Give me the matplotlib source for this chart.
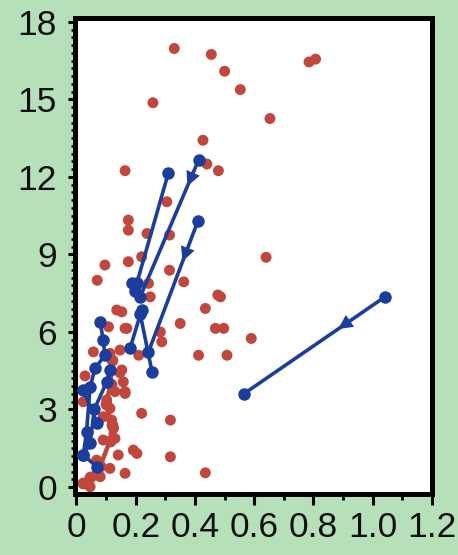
import matplotlib
matplotlib.use('Agg')
import matplotlib.pyplot as plt
from matplotlib.ticker import MultipleLocator
import numpy as np

BG = '#b6e0b9'
RED = '#c1473d'
BLUE = '#1b3e9e'

# scattered observations
red_x = [0.33, 0.455, 0.50, 0.553, 0.258, 0.427, 0.44, 0.479, 0.164, 0.785, 0.807,
         0.653, 0.64, 0.486, 0.497, 0.59, 0.508, 0.362, 0.477, 0.435, 0.249, 0.153,
         0.35, 0.469, 0.164, 0.288, 0.412, 0.21, 0.147, 0.153, 0.164, 0.22, 0.317,
         0.192, 0.204, 0.317, 0.435, 0.164, 0.305, 0.175, 0.175, 0.238, 0.314, 0.175,
         0.22, 0.314, 0.096, 0.07, 0.243, 0.136, 0.108, 0.17, 0.283, 0.057, 0.113,
         0.147, 0.029, 0.023, 0.158, 0.13, 0.164, 0.113, 0.119, 0.125, 0.13, 0.141,
         0.113, 0.08, 0.023, 0.046, 0.09, 0.102, 0.09, 0.068]
red_y = [16.97, 16.74, 16.09, 15.38, 14.87, 13.42, 12.5, 12.24, 12.24, 16.45, 16.56,
         14.26, 8.89, 7.36, 6.14, 5.75, 5.1, 7.94, 7.43, 6.91, 7.36, 6.78,
         6.33, 6.14, 6.14, 5.62, 5.1, 5.1, 5.3, 4.53, 3.69, 2.85, 2.59,
         1.43, 1.3, 1.17, 0.55, 0.53, 11.04, 10.33, 9.94, 9.81, 9.75, 8.72,
         8.91, 8.39, 8.59, 8.0, 7.88, 6.85, 6.2, 6.14, 6.0, 5.23, 5.17,
         4.42, 4.3, 3.3, 4.07, 3.69, 3.62, 3.04, 2.59, 2.27, 1.88, 1.24,
         0.72, 0.4, 0.14, 0.01, 2.72, 3.37, 1.82, 1.04]

# connected red sequence in the dense low-x region
red_path_x = [0.12, 0.115, 0.1, 0.12, 0.113, 0.08, 0.045, 0.023]
red_path_y = [4.9, 4.0, 3.2, 2.4, 1.8, 0.8, 0.4, 0.14]

# trajectories: x values, y values, and where the direction arrow sits on the first segment
traj_x = [
    [1.04, 0.564],
    [0.412, 0.215, 0.198],
    [0.41, 0.243],
    [0.31, 0.204, 0.187],
    [0.181, 0.22],
    [0.255, 0.215],
    [0.08, 0.09, 0.096, 0.063, 0.046, 0.034, 0.023, 0.068],
    [0.113, 0.102, 0.06, 0.046, 0.023],
    [0.023, 0.07],
]
traj_y = [
    [7.35, 3.6],
    [12.65, 7.36, 7.6],
    [10.3, 5.23],
    [12.15, 7.9, 7.88],
    [5.37, 6.85],
    [4.46, 6.7],
    [6.4, 5.69, 5.1, 4.6, 3.88, 2.14, 1.24, 0.79],
    [4.53, 4.07, 3.0, 1.69, 1.24],
    [3.75, 2.47],
]
arrow_pos = [0.33, 0.19, 0.31, None, None, None, None, None, None]

fig = plt.figure(figsize=(4.58, 5.55), dpi=100, facecolor=BG)
ax = fig.add_axes([75 / 458, 61 / 555, 357 / 458, 476 / 555])
ax.set_facecolor('white')

ax.scatter(red_x, red_y, s=62, color=RED, edgecolors='none', zorder=2)
ax.plot(red_path_x, red_path_y, color=RED, lw=3.2, marker='o', ms=8.5, mec='none',
        zorder=2)

for xs, ys, fr in zip(traj_x, traj_y, arrow_pos):
    ax.plot(xs, ys, color=BLUE, lw=2.6, marker='o', ms=9, mec='none', zorder=3)
    if fr is not None:
        x0, y0, x1, y1 = xs[0], ys[0], xs[1], ys[1]
        tip = (x0 + fr * (x1 - x0), y0 + fr * (y1 - y0))
        tail = (x0 + (fr - 0.05) * (x1 - x0), y0 + (fr - 0.05) * (y1 - y0))
        ax.annotate('', xy=tip, xytext=tail,
                    arrowprops=dict(arrowstyle='-|>', color=BLUE, lw=0,
                                    mutation_scale=26, shrinkA=0, shrinkB=0),
                    zorder=4)

ax.set_xlim(-0.005, 1.2)
ax.set_ylim(-0.27, 18.15)

xt = [0, 0.2, 0.4, 0.6, 0.8, 1.0, 1.2]
xl = ['0', '0.2', '0.4', '0.6', '0.8', '1.0', '1.2']
yt = [0, 3, 6, 9, 12, 15, 18]
yl = ['0', '3', '6', '9', '12', '15', '18']
ax.set_xticks(xt, xl)
ax.set_yticks(yt, yl)
ax.xaxis.set_minor_locator(MultipleLocator(0.1))
ax.yaxis.set_minor_locator(MultipleLocator(0.3))

fam = ['Liberation Sans Narrow', 'Liberation Sans', 'DejaVu Sans']
for lab in ax.get_xticklabels() + ax.get_yticklabels():
    lab.set_fontfamily(fam)
    lab.set_fontsize(25.5)
    lab.set_color('#111111')

ax.tick_params(axis='x', which='major', length=8, width=2.2, pad=4, direction='out')
ax.tick_params(axis='x', which='minor', length=4, width=2, direction='out')
ax.tick_params(axis='y', which='major', length=5, width=2.2, pad=8, direction='out')
ax.tick_params(axis='y', which='minor', length=3, width=1.8, direction='out')

for sp in ax.spines.values():
    sp.set_linewidth(3.6)
    sp.set_color('black')

fig.savefig('out.png', dpi=100, facecolor=BG)
